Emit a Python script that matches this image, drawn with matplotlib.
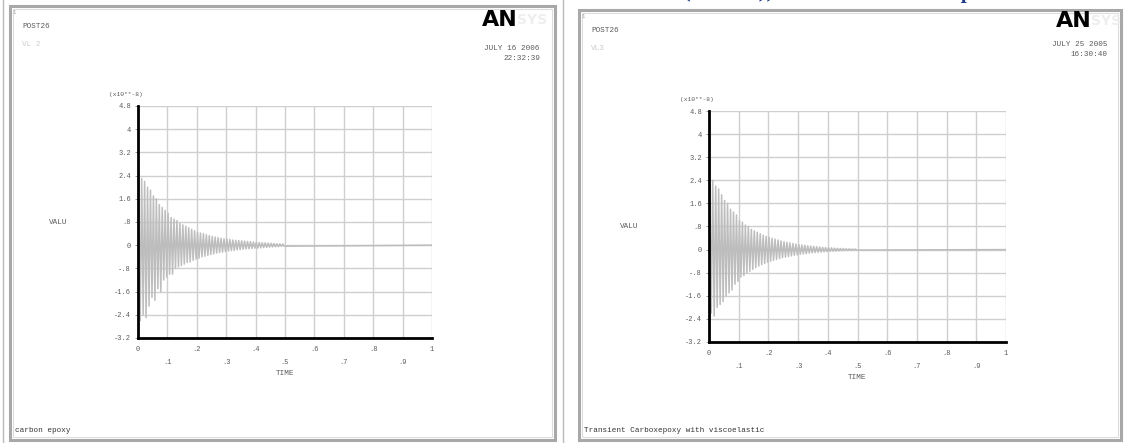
import numpy as np
import matplotlib
matplotlib.use("Agg")
import matplotlib.pyplot as plt
from matplotlib.patches import Rectangle

W, H = 1127, 443

# ---------------- data (values in units of 1e-8) ----------------
peak_spacing = 0.005  # time between successive extremes (half period)

left_extremes = [
    2.5, -2.6, 2.3, -2.4, 2.2, -2.5, 2.0, -2.1, 1.9, -1.8,
    1.7, -1.9, 1.6, -1.5, 1.4, -1.6, 1.3, -1.2, 1.2, -1.1,
    1.1, -1.0, 0.95, -1.0, 0.9, -0.8, 0.85, -0.75, 0.75, -0.7,
    0.7, -0.65, 0.65, -0.6, 0.6, -0.58, 0.55, -0.52, 0.5, -0.48,
    0.45, -0.45, 0.42, -0.4, 0.4, -0.38, 0.36, -0.35, 0.33, -0.32,
    0.3, -0.3, 0.28, -0.27, 0.26, -0.25, 0.24, -0.24, 0.22, -0.22,
    0.21, -0.2, 0.2, -0.19, 0.18, -0.18, 0.17, -0.16, 0.16, -0.15,
    0.15, -0.14, 0.14, -0.13, 0.13, -0.12, 0.12, -0.11, 0.11, -0.1,
    0.1, -0.1, 0.09, -0.09, 0.085, -0.08, 0.08, -0.075, 0.07, -0.07,
    0.065, -0.06, 0.06, -0.055, 0.05, -0.05, 0.045, -0.04, 0.04, -0.035,
]

right_extremes = [
    2.5, -2.2, 2.4, -2.3, 2.2, -2.0, 2.1, -1.9, 1.9, -1.8,
    1.7, -1.6, 1.6, -1.5, 1.4, -1.4, 1.3, -1.2, 1.2, -1.1,
    1.0, -0.95, 0.95, -0.9, 0.85, -0.8, 0.8, -0.75, 0.7, -0.68,
    0.65, -0.62, 0.6, -0.57, 0.55, -0.52, 0.5, -0.48, 0.46, -0.44,
    0.42, -0.4, 0.39, -0.37, 0.36, -0.34, 0.33, -0.31, 0.3, -0.28,
    0.27, -0.26, 0.25, -0.24, 0.23, -0.22, 0.21, -0.2, 0.19, -0.18,
    0.17, -0.16, 0.16, -0.15, 0.15, -0.14, 0.13, -0.12, 0.12, -0.11,
    0.11, -0.1, 0.1, -0.09, 0.09, -0.085, 0.08, -0.075, 0.07, -0.07,
    0.065, -0.06, 0.06, -0.055, 0.05, -0.05, 0.045, -0.045, 0.04, -0.04,
    0.035, -0.032, 0.03, -0.028, 0.026, -0.024, 0.022, -0.02, 0.018, -0.016,
]

y_ticks = [-3.2, -2.4, -1.6, -0.8, 0, 0.8, 1.6, 2.4, 3.2, 4.0, 4.8]
y_labels = ["-3.2", "-2.4", "-1.6", "-.8", "0", ".8", "1.6", "2.4", "3.2", "4", "4.8"]
x_ticks = [0, 0.1, 0.2, 0.3, 0.4, 0.5, 0.6, 0.7, 0.8, 0.9, 1.0]
x_labels = ["0", ".1", ".2", ".3", ".4", ".5", ".6", ".7", ".8", ".9", "1"]

panels = [
    dict(extremes=left_extremes, frame=(10, 6, 555, 440), axes=(138, 106, 432, 338),
         date="JULY 16 2006", time="22:32:39", datex=540, datey=49,
         logo_x=482, logo_y=20, sub="VL 2", caption="carbon epoxy"),
    dict(extremes=right_extremes, frame=(579, 10, 1121, 440), axes=(709, 111, 1006, 342),
         date="JULY 25 2005", time="16:30:40", datex=1107, datey=45,
         logo_x=1056, logo_y=21, sub="VL3", caption="Transient Carboxepoxy with viscoelastic"),
]

mono = ["Liberation Mono", "DejaVu Sans Mono"]
txt_col = "#5a5a5a"
grid_col = "#cfcfcf"
sig_col = "#bdbdbd"

fig = plt.figure(figsize=(W / 100, H / 100), dpi=100)
fig.patch.set_facecolor("white")


def fx(x):
    return x / W


def fy(y):
    return 1 - y / H


# partially visible blue heading at the very top (only descenders show)
fig.text(fx(683), fy(-1), "(Carbon)) Transient Time Response",
         color="#1f3a8a", fontsize=12, family="DejaVu Serif", fontweight="bold",
         va="baseline", ha="left")

# thin separator lines
fig.add_artist(plt.Line2D([fx(3), fx(3)], [fy(0), fy(443)], color="#bbbbbb", lw=1))
fig.add_artist(plt.Line2D([fx(563), fx(563)], [fy(0), fy(443)], color="#bbbbbb", lw=1))

for p in panels:
    x0, y0, x1, y1 = p["frame"]
    fig.add_artist(Rectangle((fx(x0), fy(y1)), fx(x1) - fx(x0), fy(y0) - fy(y1),
                             transform=fig.transFigure, fill=False,
                             edgecolor="#a8a8a8", lw=2.2))
    fig.add_artist(Rectangle((fx(x0 + 3), fy(y1 - 3)), fx(x1 - x0 - 6), fy(y0 + 3) - fy(y1 - 3),
                             transform=fig.transFigure, fill=False,
                             edgecolor="#dddddd", lw=0.8))
    fig.text(fx(x0 + 3), fy(y0 + 8), "1", fontsize=4, color="#999999", family=mono)
    fig.text(fx(x0 + 12), fy(y0 + 22), "POST26", fontsize=5.5, color=txt_col, family=mono)
    fig.text(fx(x0 + 12), fy(y0 + 40), p["sub"], fontsize=5.5, color="#cccccc", family=mono)
    fig.text(fx(p["logo_x"]), fy(p["logo_y"]), "AN", fontsize=16, fontweight="bold",
             color="black", family="DejaVu Sans", va="center", ha="left")
    fig.text(fx(p["logo_x"] + 35), fy(p["logo_y"]), "SYS", fontsize=10, fontweight="bold",
             color="#eeeeee", family="DejaVu Sans", va="center", ha="left")
    fig.text(fx(p["datex"]), fy(p["datey"]), p["date"], fontsize=5.5, color=txt_col,
             family=mono, ha="right", va="center")
    fig.text(fx(p["datex"]), fy(p["datey"] + 9), p["time"], fontsize=5.5, color=txt_col,
             family=mono, ha="right", va="center")
    fig.text(fx(x0 + 5), fy(y1 - 9), p["caption"], fontsize=5.5, color="#333333",
             family=mono, ha="left", va="center")

    ax0, ay0, ax1, ay1 = p["axes"]
    ax = fig.add_axes([fx(ax0), fy(ay1), fx(ax1) - fx(ax0), fy(ay0) - fy(ay1)])
    ext = np.array(p["extremes"])
    t = peak_spacing / 2 + peak_spacing * np.arange(len(ext))
    t = np.concatenate([[0.0], t, [1.0]])
    v = np.concatenate([[0.0], ext, [0.0]])
    ax.plot(t, v, color=sig_col, lw=1.1, zorder=2)
    ax.set_xlim(0, 1)
    ax.set_ylim(-3.2, 4.8)
    for xv in x_ticks:
        ax.axvline(xv, color=grid_col, lw=1.0, zorder=1)
    for yv in y_ticks:
        ax.axhline(yv, color=grid_col, lw=1.0, zorder=1)
    for s in ["top", "right"]:
        ax.spines[s].set_visible(False)
    for s in ["left", "bottom"]:
        ax.spines[s].set_linewidth(2.0)
        ax.spines[s].set_color("black")
        ax.spines[s].set_zorder(3)
    ax.set_yticks(y_ticks)
    ax.set_yticklabels(y_labels, fontsize=5, color=txt_col, family=mono)
    ax.tick_params(axis="y", length=2, width=0.6, color="#888888", pad=3)
    ax.set_xticks([])
    trans = ax.get_xaxis_transform()
    for i, (xv, lab) in enumerate(zip(x_ticks, x_labels)):
        dy = -0.05 if i % 2 == 0 else -0.105
        ax.text(xv, dy, lab, transform=trans, fontsize=5, color=txt_col, family=mono,
                ha="center", va="center")
    ax.text(0.5, -0.155, "TIME", transform=ax.transAxes, fontsize=5.5, color=txt_col,
            family=mono, ha="center", va="center")
    ax.text(-0.27, 0.5, "VALU", transform=ax.transAxes, fontsize=5.5, color=txt_col,
            family=mono, ha="center", va="center")
    ax.text(-0.04, 1.05, "(x10**-8)", transform=ax.transAxes, fontsize=4.5, color=txt_col,
            family=mono, ha="center", va="center")
    ax.set_facecolor("white")

fig.savefig("out.png", dpi=100)
